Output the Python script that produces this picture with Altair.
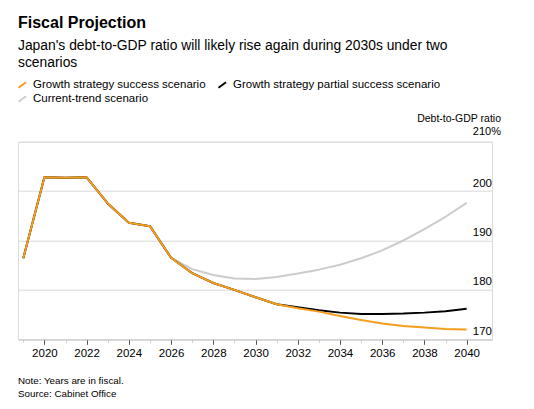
import altair as alt
import pandas as pd

# Fiscal-year debt-to-GDP projections (%), Cabinet Office scenarios
years = list(range(2019, 2041))
success = [186.4, 202.8, 202.7, 202.8, 197.5, 193.6, 192.9, 186.5, 183.4, 181.4, 180.0,
           178.5, 177.1, 176.3, 175.6, 174.7, 173.9, 173.2, 172.7, 172.4, 172.1, 172.0]
partial = [186.4, 202.8, 202.7, 202.8, 197.5, 193.6, 192.9, 186.5, 183.4, 181.4, 180.0,
           178.5, 177.1, 176.5, 175.9, 175.4, 175.1, 175.1, 175.2, 175.4, 175.7, 176.2]
current = [186.4, 202.8, 202.7, 202.8, 197.5, 193.6, 192.9, 186.5, 184.2, 183.0, 182.3,
           182.2, 182.6, 183.3, 184.1, 185.1, 186.4, 188.0, 190.0, 192.3, 194.8, 197.6]

scenarios = ["Growth strategy success scenario",
             "Growth strategy partial success scenario",
             "Current-trend scenario"]
colors = ["#f59d1c", "#000000", "#cccccc"]

y_ticks = [170, 180, 190, 200]
top_label = "210%"

title = "Fiscal Projection"
subtitle = ["Japan's debt-to-GDP ratio will likely rise again during 2030s under two",
            "scenarios"]
axis_title = "Debt-to-GDP ratio"
note = "Note: Years are in fiscal."
source = "Source: Cabinet Office"

FONT = "Liberation Sans"
W, H = 474, 197.6
PAD_L, PAD_T = 18, 141.7

frames = []
for name, vals in zip(scenarios, [success, partial, current]):
    frames.append(pd.DataFrame({"year": years, "value": vals, "scenario": name}))
df = pd.concat(frames, ignore_index=True)

x_scale = alt.Scale(domain=[2018.75, 2041.2], nice=False, zero=False)
y_scale = alt.Scale(domain=[170, 210], nice=False, zero=False)

x_axis = alt.Axis(
    values=years, format="d", title=None, grid=False,
    labelExpr="datum.value % 2 === 0 ? datum.label : ''",
    labelFont=FONT, labelFontSize=11.5, labelColor="#000000", labelPadding=3,
    domainColor="#cccccc", domainWidth=1,
    tickColor={"condition": {"test": "datum.value % 2 === 0", "value": "#555555"}, "value": "#cccccc"},
    tickSize={"condition": {"test": "datum.value % 2 === 0", "value": 5}, "value": 3},
)
y_axis = alt.Axis(values=y_ticks + [210], grid=True, gridColor="#dadada", gridWidth=1,
                  labels=False, ticks=False, domain=False, title=None, orient="right")

base = alt.Chart(df)


def series_line(i):
    return base.transform_filter(alt.datum.scenario == scenarios[i]).mark_line(
        strokeWidth=2, color=colors[i], strokeJoin="round"
    ).encode(
        x=alt.X("year:Q", scale=x_scale, axis=x_axis),
        y=alt.Y("value:Q", scale=y_scale, axis=y_axis),
    )


# current-trend underneath, success scenario on top
lines = [series_line(2), series_line(1), series_line(0)]

tick_df = pd.DataFrame({"v": y_ticks, "lab": [str(v) for v in y_ticks]})
y_labels = alt.Chart(tick_df).mark_text(
    align="right", baseline="alphabetic", dy=-4.5, font=FONT, fontSize=11.5, color="#000000"
).encode(x=alt.value(W), y=alt.Y("v:Q", scale=y_scale, axis=y_axis), text="lab:N")

top_df = pd.DataFrame({"v": [210], "lab": [top_label]})
top_lab = alt.Chart(top_df).mark_text(
    align="right", baseline="alphabetic", dy=-6.5, font=FONT, fontSize=11, color="#000000"
).encode(x=alt.value(W + 9), y=alt.Y("v:Q", scale=y_scale, axis=y_axis), text="lab:N")


def text_at(txt, x, y, size, weight="normal", align="left", color="#000000"):
    return alt.Chart(pd.DataFrame({"t": [txt]})).mark_text(
        align=align, baseline="alphabetic", font=FONT, fontSize=size,
        fontWeight=weight, color=color
    ).encode(x=alt.value(x), y=alt.value(y), text="t:N")


texts = [
    text_at(title, 0, 28 - PAD_T, 16, weight="bold"),
    text_at(subtitle[0], 0, 49.5 - PAD_T, 13.85),
    text_at(subtitle[1], 0, 67 - PAD_T, 13.85),
    text_at(axis_title, W + 9, 122.3 - PAD_T, 10.5, align="right"),
    text_at(note, 0, 384 - PAD_T, 9.8),
    text_at(source, 0, 396.5 - PAD_T, 9.8),
]

# legend: slanted stroke swatch followed by the scenario name
legend_pos = [(0, 87.7), (200, 87.7), (0, 101.7)]
legend_layers = []
for i, (lx, ly) in enumerate(legend_pos):
    legend_layers.append(
        alt.Chart(pd.DataFrame({"k": [0]})).mark_rule(strokeWidth=2, color=colors[i]).encode(
            x=alt.value(lx + 0.5), x2=alt.value(lx + 8),
            y=alt.value(ly - PAD_T), y2=alt.value(ly - PAD_T - 5.5),
        )
    )
    legend_layers.append(text_at(scenarios[i], lx + 15, ly - PAD_T, 11.5))

chart = alt.layer(*lines, y_labels, top_lab, *texts, *legend_layers).properties(
    width=W, height=H,
    autosize=alt.AutoSizeParams(type="none"),
    padding={"left": PAD_L, "top": PAD_T, "right": 534 - PAD_L - W, "bottom": 409 - PAD_T - H},
).configure_view(stroke=None).configure(background="#ffffff")

chart.save("out.html", embed_options={"renderer": "svg", "actions": False})
